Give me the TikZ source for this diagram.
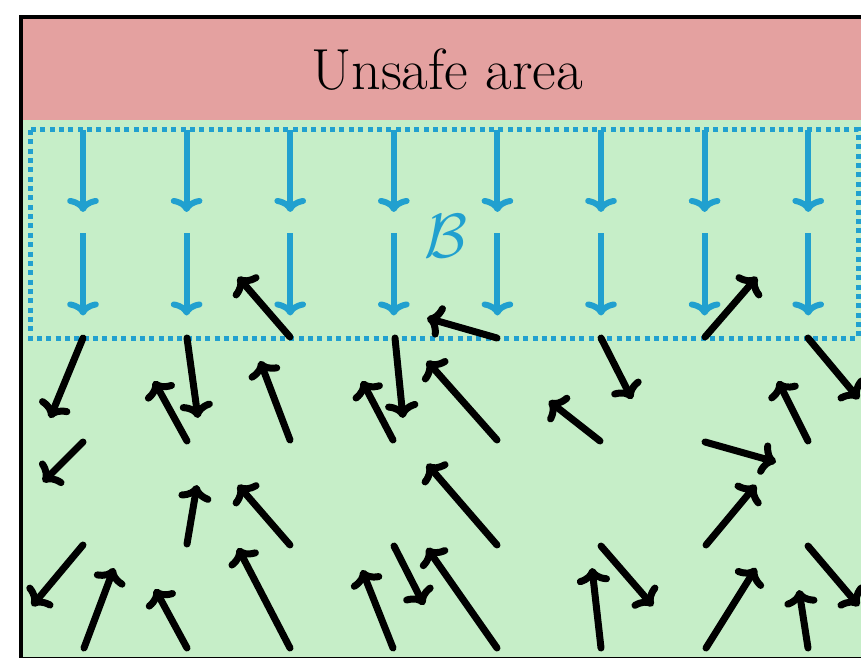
\documentclass[tikz,border=0pt]{standalone}
\usetikzlibrary{arrows.meta}
\definecolor{unsafered}{RGB}{228,161,160}
\definecolor{safegreen}{RGB}{198,238,200}
\definecolor{barrierblue}{RGB}{33,160,207}
\begin{document}
\begin{tikzpicture}[x=0.02cm,y=-0.02cm,
  field/.style={line width=0.14cm, line cap=round, -{To[length=9pt,width=19pt,round]}},
  barrier/.style={barrierblue, line width=0.12cm, -{To[length=8pt,width=18pt,round]}},
  bigtext/.style={font=\fontsize{33}{40}\selectfont}]
\useasboundingbox (0,0) rectangle (861,658);
% regions
\fill[safegreen] (21,120) rectangle (870,670);
\fill[unsafered] (21,17) rectangle (870,120);
\draw[line width=0.08cm] (21,17) rectangle (868,659);
\node[bigtext] (unsafe) at (447,70) {Unsafe area};
% barrier set
\draw[barrierblue, line width=0.1cm, dash pattern=on 0.1cm off 0.087cm] (30,130) rectangle (858,338);
\foreach \i in {0,...,7}{
  \draw[barrier] (83+103.6*\i,130) -- ++(0,82);
  \draw[barrier] (83+103.6*\i,233.5) -- ++(0,82);
}
\node[font=\Huge, scale=1.43, text=barrierblue] (setB) at (446,236) {$\mathcal{B}$};
% vector field outside the barrier
\foreach \a/\b/\c/\d in {
  83/338/50/418, 187/338/198/418, 290/337/238/277, 395/338/403/418,
  497/338/427/318, 601/338/632/399, 705/337/757/277, 808/338/859/399,
  83/442/43/482, 187/441/154/381, 290/440/260/361, 393/440/362/381,
  497/440/427/361, 600/441/549/401, 705/442/776/462, 808/441/778/381,
  83/545/32/606, 187/544/197/485, 290/545/238/485, 394/546/424/605,
  497/545/427/464, 601/546/653/606, 706/545/756/485, 808/546/859/606,
  84/648/114/568, 187/648/155/589, 290/648/238/548, 393/648/362/570,
  497/648/427/548, 601/648/592/568, 706/648/756/568, 808/648/799/590}
  \draw[field] (\a,\b) -- (\c,\d);
\end{tikzpicture}
\end{document}
